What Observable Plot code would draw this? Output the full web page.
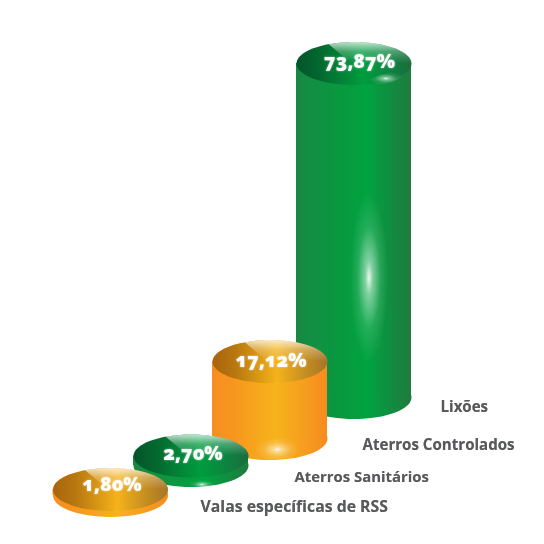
<!DOCTYPE html>
<html><head><meta charset="utf-8">
<script src="https://cdn.jsdelivr.net/npm/d3@7"></script>
<script src="https://cdn.jsdelivr.net/npm/@observablehq/plot@0.6"></script>
<style>html,body{margin:0;padding:0;background:#fff}svg{display:block}</style>
</head><body><div id="chart"></div>
<script>
const categories = ["Valas específicas de RSS", "Aterros Sanitários", "Aterros Controlados", "Lixões"];
const percents = [1.80, 2.70, 17.12, 73.87];
const percentLabels = ["1,80%", "2,70%", "17,12%", "73,87%"];

// Presentation only: staircase placement, drawn back to front
const palette = ["gold", "green", "gold", "green"];
const stepX = [-0.5, -1, -3, 0];
const stepY = [-49, -79, -106, -147];
const labelNudge = [[1.5, -5], [2, -2.5], [1, -1], [5.5, -1.5]];
const nameDx = [90, 103.5, 92.5, 86.5];
const nameY = [511, 482, 450, 412];
const nameSize = [15.8, 14.9, 15.1, 15.1];

const RX = 57.5, RY = 21.5;
const rows = categories.map((name, i) => ({name, value: percents[i], label: percentLabels[i], i}));

function ellipse(rx, ry, rot = 0) {
  const c = Math.cos(rot), s = Math.sin(rot), k = 0.5523;
  const P = (x, y) => [x * c - y * s, x * s + y * c];
  return {draw(p) {
    p.moveTo(...P(rx, 0));
    p.bezierCurveTo(...P(rx, k * ry), ...P(k * rx, ry), ...P(0, ry));
    p.bezierCurveTo(...P(-k * rx, ry), ...P(-rx, k * ry), ...P(-rx, 0));
    p.bezierCurveTo(...P(-rx, -k * ry), ...P(-k * rx, -ry), ...P(0, -ry));
    p.bezierCurveTo(...P(k * rx, -ry), ...P(rx, -k * ry), ...P(rx, 0));
    p.closePath();
  }};
}
const wedge = {draw(p) {
  p.moveTo(0, 2);
  const t0 = Math.atan2(-0.9, -0.44);
  for (let j = 0; j <= 48; j++) {
    const t = t0 + (0 - t0) * j / 48 ;
    p.lineTo(RX * Math.cos(t), RY * Math.sin(t));
  }
  p.closePath();
}};

function defs() {
  const d = d3.create("svg:defs");
  const linear = (id, stops, vertical) => {
    const g = d.append("linearGradient").attr("id", id)
      .attr("x1", 0).attr("y1", 0).attr("x2", vertical ? 0 : 1).attr("y2", vertical ? 1 : 0);
    stops.forEach(([o, c, a = 1]) => g.append("stop").attr("offset", o).attr("stop-color", c).attr("stop-opacity", a));
  };
  linear("body-green", [[0, "#1b8442"], [0.1, "#138e43"], [0.4, "#08993f"], [0.62, "#00a340"], [0.85, "#138a40"], [1, "#207a3d"]]);
  linear("top-green", [[0, "#02542a"], [0.2, "#04682f"], [0.58, "#009c3e"], [0.8, "#0c8540"], [1, "#1a6c3d"]]);
  linear("body-gold", [[0, "#f78e20"], [0.2, "#f7971f"], [0.55, "#f6b31b"], [0.8, "#f69d1e"], [1, "#f68b20"]]);
  linear("top-gold", [[0, "#a8640f"], [0.2, "#b8780f"], [0.56, "#f5b21a"], [0.8, "#c68f1f"], [1, "#a5742a"]]);
  linear("sheen", [[0, "#fff", 0.75], [0.4, "#fff", 0.26], [0.9, "#fff", 0]], true);
  const r = d.append("radialGradient").attr("id", "glow");
  [[0, 0.92], [0.2, 0.5], [0.6, 0.13], [1, 0]].forEach(([o, a]) =>
    r.append("stop").attr("offset", o).attr("stop-color", "#fff").attr("stop-opacity", a));
  return d.node();
}

const shared = {
  x: {type: "band", domain: categories, range: [69.5, 394], padding: 0, axis: null},
  y: {type: "linear", domain: [0, 1.8, 2.7, 17.12, 73.87], range: [544, 538, 534.5, 467, 210], axis: null}
};

const marks = [defs];
[3, 2, 1, 0].forEach(i => {
  const row = [rows[i]];
  const tone = palette[i], dx = stepX[i], dy = stepY[i];
  const side = {x: "name", dx, dy};
  marks.push(
    Plot.dot(row, {...side, y: () => 0, symbol: ellipse(RX, RY), fill: `url(#body-${tone})`}),
    Plot.barY(row, {...side, y1: () => 0, y2: "value", insetLeft: -17, insetRight: -17, fill: `url(#body-${tone})`}),
    Plot.dot(row, {...side, y: "value", symbol: ellipse(RX, RY), fill: `url(#top-${tone})`}),
    Plot.dot(row, {...side, y: "value", symbol: wedge, fill: "url(#sheen)"}),
    Plot.text(row, {x: "name", y: "value", text: "label", dx: dx + labelNudge[i][0], dy: dy + labelNudge[i][1],
      fill: "#fff", fontSize: 19.3, fontWeight: 800, fontFamily: "Open Sans", fontVariant: "oldstyle-nums", textAnchor: "middle",
      imageFilter: "drop-shadow(0 0 1px rgba(255,255,255,.5))"})
  );
});

// Highlights on the glossy surfaces
marks.push(
  Plot.dot([rows[3]], {x: "name", y: d => d.value * 0.36, dx: stepX[3] + 15, dy: stepY[3], symbol: ellipse(19, 85), fill: "url(#glow)"}),
  Plot.dot([rows[3]], {x: "name", y: "value", dx: stepX[3] + 32, dy: stepY[3] + 15, symbol: ellipse(18, 5, -0.25), fill: "url(#glow)"}),
  Plot.dot([rows[2]], {x: "name", y: () => 0, dx: stepX[2] + 7.5, dy: stepY[2] + 11, symbol: ellipse(22, 12), fill: "url(#glow)"}),
  Plot.dot([rows[1]], {x: "name", y: () => 0, dx: stepX[1] + 11, dy: stepY[1] + 19, symbol: ellipse(13, 4.5), fill: "url(#glow)"})
);

// Category names
rows.forEach((r, i) => marks.push(Plot.text([r], {
  x: "name", y: () => 0, text: "name", dx: stepX[i] + nameDx[i], dy: nameY[i] - 544 - 5,
  textAnchor: "start", fill: "#58595b", fontSize: nameSize[i], fontWeight: 700, fontFamily: "Open Sans",
  imageFilter: "drop-shadow(0.6px 0.6px 0.6px rgba(0,0,0,.35))"
})));

const chart = Plot.plot({
  width: 544, height: 544, margin: 0,
  style: {background: "#fff", overflow: "visible"},
  ...shared,
  marks
});
document.getElementById("chart").append(chart);
</script></body></html>
